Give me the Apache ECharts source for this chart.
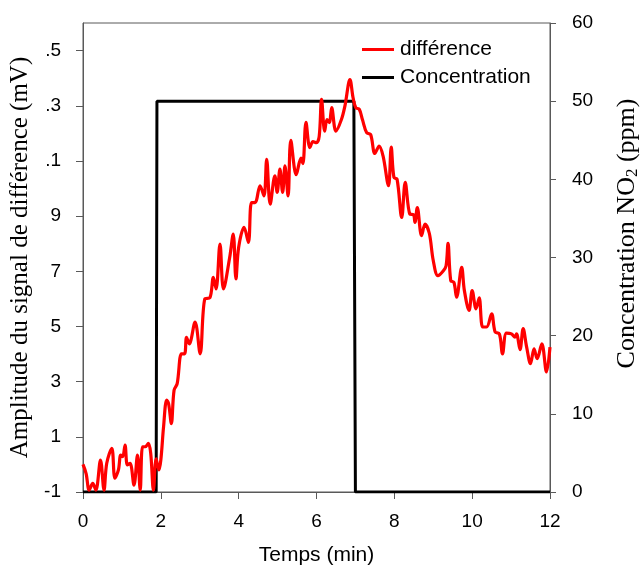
<!DOCTYPE html>
<html>
<head>
<meta charset="utf-8">
<style>
  html, body { margin: 0; padding: 0; background: #fff; }
  #chart1 { width: 641px; height: 570px; }
</style>
<script src="https://cdn.jsdelivr.net/npm/echarts@6/dist/echarts.min.js"></script>
</head>
<body>
<div id="chart1"></div>
<script>
// temps (min) / amplitude du signal de différence (mV)
var diffTimes = [0, 0.08, 0.16, 0.25, 0.33, 0.45, 0.54, 0.61, 0.74, 0.82, 0.91, 0.97, 1.02, 1.08, 1.14, 1.21,
  1.31, 1.40, 1.47, 1.53, 1.60, 1.68, 1.74, 1.81, 1.88, 1.95, 2.0, 2.07, 2.15, 2.2, 2.27, 2.34, 2.42, 2.53,
  2.61, 2.66, 2.73, 2.88, 3.01, 3.13, 3.26, 3.35, 3.42, 3.52, 3.61, 3.77, 3.86, 3.93, 4.0, 4.14, 4.25, 4.33,
  4.42, 4.55, 4.65, 4.72, 4.81, 4.93, 4.99, 5.06, 5.13, 5.19, 5.27, 5.34, 5.48, 5.6, 5.65, 5.73, 5.83, 5.91,
  6.0, 6.07, 6.13, 6.21, 6.27, 6.33, 6.39, 6.5, 6.64, 6.73, 6.86, 6.94, 7.01, 7.1, 7.18, 7.29, 7.39, 7.5,
  7.61, 7.71, 7.85, 7.92, 7.99, 8.07, 8.19, 8.28, 8.4, 8.49, 8.53, 8.59, 8.7, 8.79, 8.9, 9.0, 9.12, 9.26,
  9.33, 9.38, 9.45, 9.53, 9.6, 9.73, 9.8, 9.92, 10.0, 10.1, 10.18, 10.27, 10.37, 10.5, 10.59, 10.7, 10.78,
  10.88, 11.01, 11.1, 11.14, 11.23, 11.31, 11.4, 11.5, 11.59, 11.67, 11.79, 11.91, 12.0];
var diffValues = [0.0, -0.33, -0.93, -0.69, -0.93, 0.16, -0.93, 0.04, 0.58, -0.5, -0.2, 0.34, 0.28, 0.7, -0.02, 0.04,
  -0.75, 0.34, -0.93, 0.64, 0.64, 0.76, 0.4, -0.93, 0.2, -0.2, 0.16, 1.36, 2.33, 2.2, 1.48, 2.69, 2.93, 4.01,
  4.01, 4.61, 4.37, 5.16, 4.01, 6.0, 6.04, 6.78, 6.36, 7.99, 6.36, 7.51, 8.35, 6.72, 7.87, 8.59, 8.05, 9.49,
  9.49, 10.1, 9.73, 11.06, 9.43, 10.46, 9.86, 10.7, 9.86, 10.82, 9.73, 11.75, 10.5, 11.1, 10.9, 12.4, 11.48, 11.7,
  11.66, 11.9, 13.23, 12.08, 12.5, 12.39, 12.93, 12.08, 12.5, 12.99, 13.95, 13.29, 12.93, 12.87, 12.5, 12.02, 11.96, 11.27,
  11.54, 11.18, 10.1, 11.5, 10.4, 10.34, 8.95, 10.22, 9.07, 9.05, 8.77, 9.31, 8.29, 8.71, 8.37, 7.39, 6.84, 7.02,
  7.2, 8.01, 6.66, 6.6, 6.06, 7.14, 6.3, 5.58, 6.3, 5.64, 6.04, 4.98, 4.98, 5.46, 4.8, 4.73, 4.01,
  4.76, 4.73, 4.61, 4.73, 4.16, 4.92, 4.25, 3.65, 4.19, 3.83, 4.37, 3.35, 4.25];

// temps (min) / concentration NO2 (ppm)
var concTimes = [0, 1.88, 1.9, 6.96, 7.0, 12];
var concValues = [0, 0, 50, 50, 0, 0];

var leftTickValues = [-1, 1, 3, 5, 7, 9, 11, 13, 15];
var leftTickLabels = ['-1', '1', '3', '5', '7', '9', '.1', '.3', '.5'];
var rightTickValues = [0, 10, 20, 30, 40, 50, 60];
var timeTicks = [0, 2, 4, 6, 8, 10, 12];

function zip(a, b) {
  return a.map(function (x, i) { return [x, b[i]]; });
}

var dom = document.getElementById('chart1');
var myChart = echarts.init(dom, null, { renderer: 'canvas' });

var axisColor = '#595959';
var tickFont = { color: '#000', fontSize: 19, fontFamily: 'Liberation Sans' };

var option = {
  animation: false,
  backgroundColor: '#fff',
  grid: {
    left: 83, right: 91, top: 23, bottom: 78,
    outerBoundsMode: 'none',
    containLabel: false,
    show: true, borderColor: axisColor, borderWidth: 1
  },
  legend: {
    orient: 'vertical',
    left: 357, top: 34,
    padding: 5,
    itemWidth: 32, itemHeight: 3, itemGap: 7,
    icon: 'rect',
    textStyle: { color: '#000', fontSize: 21, fontFamily: 'Liberation Sans', padding: [0, 0, 0, 1] },
    data: ['différence', 'Concentration']
  },
  xAxis: {
    type: 'value',
    min: 0, max: 12, interval: 2,
    name: 'Temps (min)',
    nameLocation: 'middle',
    nameGap: 53,
    nameTextStyle: { color: '#000', fontSize: 21, fontFamily: 'Liberation Sans' },
    axisLine: { show: true, onZero: false, lineStyle: { color: axisColor, width: 1 } },
    axisTick: { show: true, inside: false, length: 7, lineStyle: { color: axisColor } },
    axisLabel: Object.assign({ margin: 20 }, tickFont, {
      customValues: timeTicks
    }),
    splitLine: { show: false }
  },
  yAxis: [
    {
      type: 'value',
      position: 'left',
      min: -1, max: 16,
      name: 'Amplitude du signal de différence (mV)',
      nameLocation: 'middle',
      nameRotate: 90,
      nameGap: 47,
      nameTextStyle: { color: '#000', fontSize: 25, fontFamily: 'Liberation Serif' },
      axisLine: { show: true, onZero: false, lineStyle: { color: axisColor, width: 1 } },
      axisTick: { show: true, length: 7, customValues: leftTickValues, lineStyle: { color: axisColor } },
      axisLabel: Object.assign({ margin: 22 }, tickFont, {
        customValues: leftTickValues,
        formatter: function (v) {
          var i = leftTickValues.indexOf(v);
          return i >= 0 ? leftTickLabels[i] : '';
        }
      }),
      splitLine: { show: false }
    },
    {
      type: 'value',
      position: 'right',
      min: 0, max: 60, interval: 10,
      name: '{t|Concentration NO}{s|2}{t| (ppm)}',
      nameLocation: 'middle',
      nameRotate: 90,
      nameGap: 64,
      nameTextStyle: {
        color: '#000',
        padding: [0, 0, 0, 48],
        rich: {
          t: { fontSize: 26, fontFamily: 'Liberation Serif', color: '#000' },
          s: { fontSize: 17, fontFamily: 'Liberation Serif', color: '#000', verticalAlign: 'bottom', padding: [10, 0, 0, 0] }
        }
      },
      axisLine: { show: true, onZero: false, lineStyle: { color: axisColor, width: 1 } },
      axisTick: { show: true, length: 6, lineStyle: { color: axisColor } },
      axisLabel: Object.assign({ margin: 22 }, tickFont, {
        customValues: rightTickValues
      }),
      splitLine: { show: false }
    }
  ],
  series: [
    {
      name: 'différence',
      type: 'line',
      yAxisIndex: 0,
      data: zip(diffTimes, diffValues),
      smooth: 0.35,
      symbol: 'none',
      color: '#ff0000',
      lineStyle: { color: '#ff0000', width: 3.2 },
      z: 3
    },
    {
      name: 'Concentration',
      type: 'line',
      yAxisIndex: 1,
      data: zip(concTimes, concValues),
      symbol: 'none',
      color: '#000',
      lineStyle: { color: '#000', width: 3 },
      z: 2
    }
  ]
};

myChart.setOption(option);
window.addEventListener('resize', myChart.resize);
</script>
</body>
</html>
